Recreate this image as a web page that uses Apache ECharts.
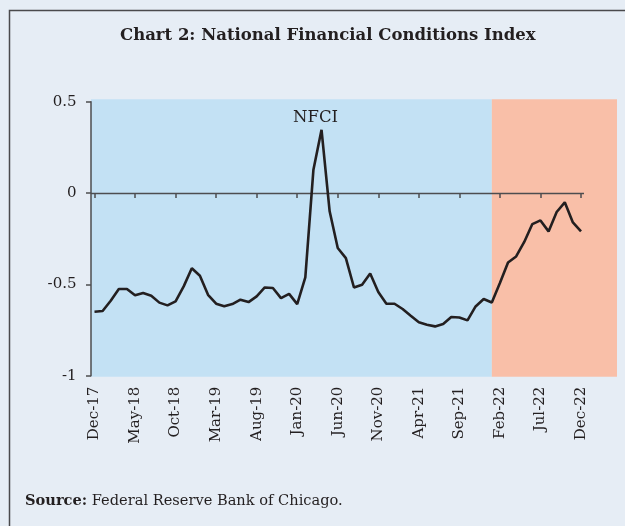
<!DOCTYPE html>
<html>
<head>
<meta charset="utf-8">
<script src="https://cdn.jsdelivr.net/npm/echarts@6/dist/echarts.min.js"></script>
<style>
  html, body { margin: 0; padding: 0; background: #e6edf5; }
  #chart { width: 625px; height: 526px; }
</style>
</head>
<body>
<div id="chart"></div>
<script>
// Monthly NFCI readings, Dec-2017 .. Dec-2022
const months = [
  'Dec-17','Jan-18','Feb-18','Mar-18','Apr-18','May-18','Jun-18','Jul-18','Aug-18','Sep-18','Oct-18','Nov-18',
  'Dec-18','Jan-19','Feb-19','Mar-19','Apr-19','May-19','Jun-19','Jul-19','Aug-19','Sep-19','Oct-19','Nov-19',
  'Dec-19','Jan-20','Feb-20','Mar-20','Apr-20','May-20','Jun-20','Jul-20','Aug-20','Sep-20','Oct-20','Nov-20',
  'Dec-20','Jan-21','Feb-21','Mar-21','Apr-21','May-21','Jun-21','Jul-21','Aug-21','Sep-21','Oct-21','Nov-21',
  'Dec-21','Jan-22','Feb-22','Mar-22','Apr-22','May-22','Jun-22','Jul-22','Aug-22','Sep-22','Oct-22','Nov-22',
  'Dec-22'
];
const nfci = [
  -0.65, -0.646, -0.59, -0.525, -0.525, -0.56, -0.547, -0.562, -0.60, -0.615, -0.593, -0.511,
  -0.412, -0.453, -0.557, -0.606, -0.62, -0.608, -0.584, -0.597, -0.566, -0.517, -0.52, -0.575,
  -0.552, -0.608, -0.462, 0.128, 0.346, -0.10, -0.301, -0.356, -0.517, -0.502, -0.44, -0.542,
  -0.606, -0.606, -0.635, -0.672, -0.708, -0.721, -0.73, -0.717, -0.679, -0.681, -0.697, -0.621,
  -0.58, -0.599, -0.493, -0.38, -0.347, -0.268, -0.17, -0.15, -0.21, -0.104, -0.051, -0.161,
  -0.21
];
const yTicks = { min: -1, max: 0.5, step: 0.5 };
const shadeStart = 'Jan-22';   // start of the shaded 2022 period

const serif = '"DejaVu Serif", "Liberation Serif", serif';
const ink = '#231f20';
const axisGrey = '#4d4d4f';

const chart = echarts.init(document.getElementById('chart'), null, { renderer: 'canvas' });

const option = {
  backgroundColor: '#e6edf5',
  animation: false,
  textStyle: { fontFamily: serif },
  title: {
    text: 'Chart 2: National Financial Conditions Index',
    left: 115,
    top: 22,
    textStyle: { fontFamily: serif, fontWeight: 'bold', fontSize: 16.5, color: ink }
  },
  legend: {
    data: ['NFCI'],
    icon: 'none',
    left: 283,
    top: 104,
    itemWidth: 0,
    itemGap: 0,
    textStyle: { fontFamily: serif, fontSize: 16.5, color: ink }
  },
  grid: { left: 94.5, right: 44, top: 101.7, bottom: 150.3, containLabel: false },
  xAxis: [
    {
      type: 'category',
      data: months,
      boundaryGap: false,
      position: 'bottom',
      axisLine: { show: false, onZero: false },
      axisTick: { show: false },
      axisLabel: {
        rotate: 90,
        interval: 4,
        margin: 11,
        fontFamily: serif,
        fontSize: 15,
        color: ink
      },
      splitLine: { show: false }
    },
    {
      type: 'category',
      data: months,
      boundaryGap: false,
      position: 'top',
      axisLine: { show: false, onZero: true },
      axisTick: { show: true, inside: true, interval: 4, length: 5, lineStyle: { color: axisGrey, width: 1.5 } },
      axisLabel: { show: false },
      splitLine: { show: false }
    }
  ],
  yAxis: {
    type: 'value',
    min: yTicks.min,
    max: yTicks.max,
    interval: yTicks.step,
    offset: 3.5,
    axisLine: { show: true, lineStyle: { color: axisGrey, width: 1.5 } },
    axisTick: { show: true, length: 5, lineStyle: { color: axisGrey, width: 1.5 } },
    axisLabel: {
      margin: 14.5,
      fontFamily: serif,
      fontSize: 15,
      color: ink,
      formatter: v => String(Math.round(v * 10) / 10)
    },
    splitLine: { show: false }
  },
  series: [
    {
      name: 'NFCI',
      type: 'line',
      xAxisIndex: 0,
      data: nfci,
      symbol: 'none',
      clip: false,
      lineStyle: { color: ink, width: 2.6 },
      z: 5
    }
  ]
};

chart.setOption(option);

// Shaded backdrop panels, zero line and page furniture placed from the axis scales
function place() {
  const x0 = chart.convertToPixel({ xAxisIndex: 0 }, months[0]) - 3.5;
  const xs = chart.convertToPixel({ xAxisIndex: 0 }, shadeStart);
  const xl = chart.convertToPixel({ xAxisIndex: 0 }, months[months.length - 1]);
  const yTop = chart.convertToPixel({ yAxisIndex: 0 }, yTicks.max) - 2.5;
  const yBot = chart.convertToPixel({ yAxisIndex: 0 }, yTicks.min) + 1;
  const yZero = Math.round(chart.convertToPixel({ yAxisIndex: 0 }, 0)) + 0.5;
  chart.setOption({
    graphic: [
      { type: 'rect', z: -10, silent: true,
        shape: { x: x0, y: yTop, width: xs - x0, height: yBot - yTop },
        style: { fill: '#c3e1f4' } },
      { type: 'rect', z: -10, silent: true,
        shape: { x: xs, y: yTop, width: xl + 36 - xs, height: yBot - yTop },
        style: { fill: '#f9bfa8' } },
      { type: 'line', z: 3, silent: true,
        shape: { x1: x0, y1: yZero, x2: xl + 3, y2: yZero },
        style: { stroke: axisGrey, lineWidth: 1.5 } },
      { type: 'polyline', z: 1, silent: true,
        shape: { points: [[9.5, 526], [9.5, 10.5], [625, 10.5]] },
        style: { stroke: '#4a4a4c', lineWidth: 1.5, fill: null } },
      { type: 'text', z: 1, silent: true, left: 25, top: 494,
        style: {
          text: '{b|Source:} Federal Reserve Bank of Chicago.',
          rich: {
            b: { fontFamily: serif, fontWeight: 'bold', fontSize: 14.6, fill: ink }
          },
          font: '14.6px ' + serif,
          fill: ink
        } }
    ]
  });
}
place();
</script>
</body>
</html>
